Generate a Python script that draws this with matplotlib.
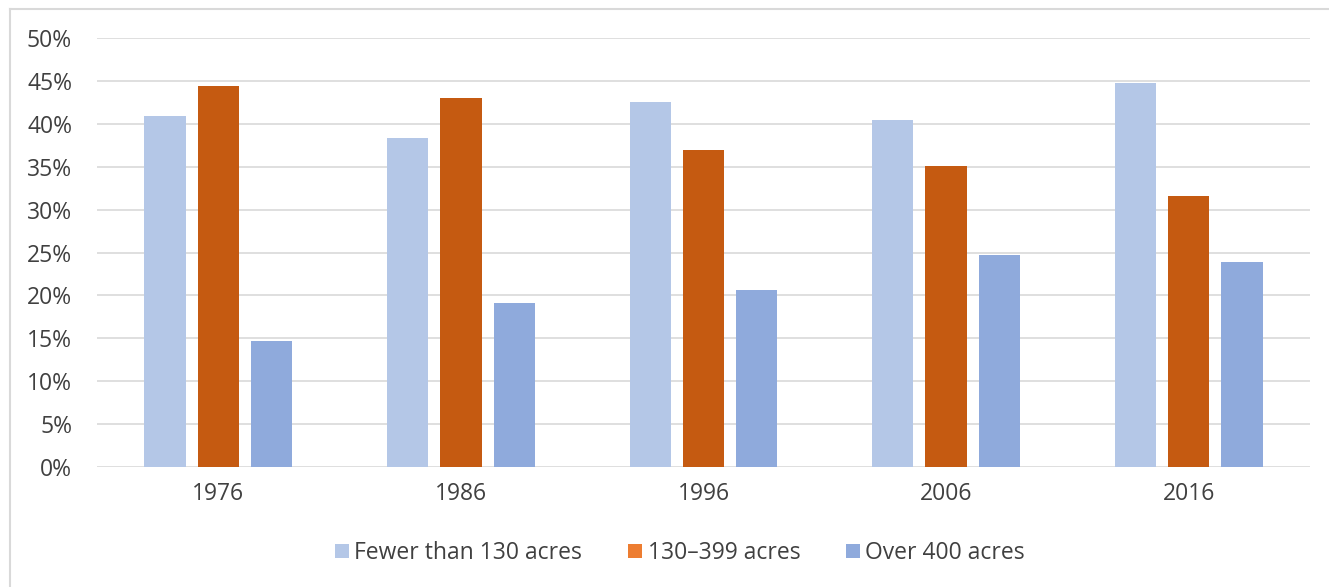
import matplotlib
matplotlib.use("Agg")
import matplotlib.pyplot as plt
from matplotlib.lines import Line2D
from matplotlib.patches import Patch
import numpy as np

years = ["1976", "1986", "1996", "2006", "2016"]
series_names = ["Fewer than 130 acres", "130\u2013399 acres", "Over 400 acres"]
small = [40.9, 38.3, 42.5, 40.4, 44.8]
medium = [44.4, 43.0, 36.9, 35.1, 31.6]
large = [14.7, 19.1, 20.6, 24.7, 23.9]

bar_colors = ["#B4C7E7", "#C55A11", "#8FAADC"]
legend_colors = ["#B4C7E7", "#ED7D31", "#8FAADC"]
text_color = "#404040"
grid_color = "#D9D9D9"

plt.rcParams["font.family"] = ["Open Sans", "DejaVu Sans"]

W, H = 1329, 587
fig = plt.figure(figsize=(W / 100, H / 100), dpi=100)
ax = fig.add_axes([97 / W, (H - 467) / H, (1310 - 97) / W, (467 - 38) / H])

x = np.arange(len(years))
width = 0.17
offset = 0.22
for i, (vals, col) in enumerate(zip([small, medium, large], bar_colors)):
    ax.bar(x + (i - 1) * offset, np.array(vals) / 100, width=width,
           color=col, zorder=3)

ax.set_xlim(-0.5, 4.5)
ax.set_ylim(0, 0.5)
yt = np.arange(0, 0.51, 0.05)
ax.set_yticks(yt)
ax.set_yticklabels([f"{int(round(v * 100))}%" for v in yt])
ax.set_xticks(x)
ax.set_xticklabels(years)
ax.tick_params(axis="both", length=0, colors=text_color, labelsize=16.5)
ax.tick_params(axis="y", pad=18)
ax.tick_params(axis="x", pad=11)
ax.grid(axis="y", color=grid_color, linewidth=1.2, zorder=0)
for s in ax.spines.values():
    s.set_visible(False)

handles = [Patch(facecolor=c, edgecolor="none") for c in legend_colors]
fig.legend(handles, series_names, loc="center", bbox_to_anchor=(680 / W, 1 - 553 / H),
           ncol=3, frameon=False, fontsize=16.5, handlelength=0.6, handleheight=0.6,
           handletextpad=0.25, columnspacing=2.0, labelcolor=text_color)

# outer frame
fig.add_artist(Line2D([10 / W, 1.0], [1 - 9 / H, 1 - 9 / H], transform=fig.transFigure,
                      color=grid_color, linewidth=1.5))
fig.add_artist(Line2D([10 / W, 10 / W], [0, 1 - 9 / H], transform=fig.transFigure,
                      color=grid_color, linewidth=1.5))

fig.savefig("out.png", dpi=100, facecolor="white")
